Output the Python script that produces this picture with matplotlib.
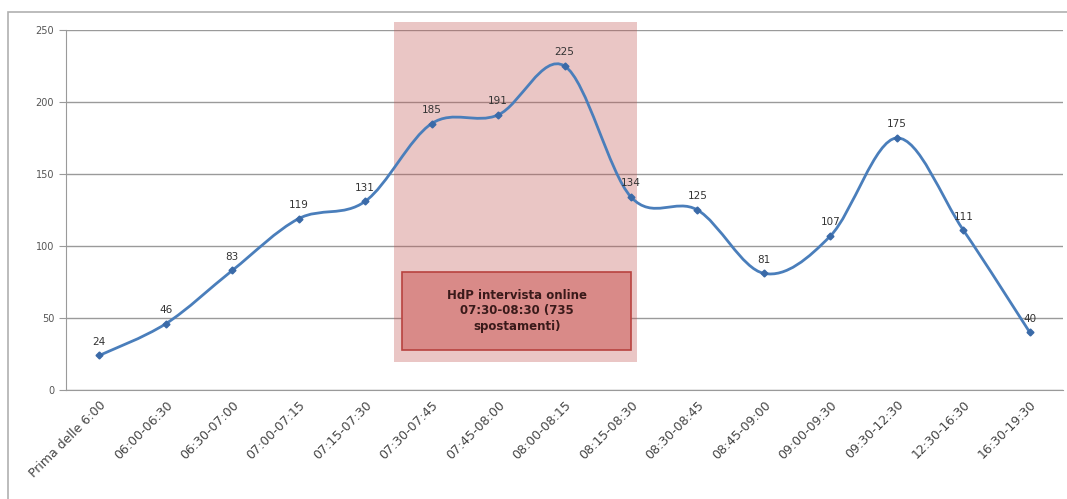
import numpy as np
import matplotlib.pyplot as plt
from matplotlib.path import Path
from matplotlib.patches import PathPatch, Rectangle

fasce = ["Prima delle 6:00", "06:00-06:30", "06:30-07:00", "07:00-07:15",
         "07:15-07:30", "07:30-07:45", "07:45-08:00", "08:00-08:15",
         "08:15-08:30", "08:30-08:45", "08:45-09:00", "09:00-09:30",
         "09:30-12:30", "12:30-16:30", "16:30-19:30"]
spostamenti = [24, 46, 83, 119, 131, 185, 191, 225, 134, 125, 81, 107, 175, 111, 40]
nota = "HdP intervista online\n07:30-08:30 (735\nspostamenti)"

linea = "#4a7ebb"

fig = plt.figure(figsize=(10.67, 4.99), dpi=100)
ax = fig.add_axes([0.0619, 0.2184, 0.9344, 0.7215])

x = np.arange(len(spostamenti))
y = np.array(spostamenti, dtype=float)

# smoothed line (Excel-like Catmull-Rom through the points, as bezier path)
verts = [(x[0], y[0])]
codes = [Path.MOVETO]
n = len(x)
for i in range(n - 1):
    p0 = np.array([x[max(i - 1, 0)], y[max(i - 1, 0)]])
    p1 = np.array([x[i], y[i]])
    p2 = np.array([x[i + 1], y[i + 1]])
    p3 = np.array([x[min(i + 2, n - 1)], y[min(i + 2, n - 1)]])
    c1 = p1 + (p2 - p0) / 6
    c2 = p2 - (p3 - p1) / 6
    verts += [tuple(c1), tuple(c2), tuple(p2)]
    codes += [Path.CURVE4] * 3
ax.add_patch(PathPatch(Path(verts, codes), fill=False, edgecolor=linea,
                       lw=2.0, zorder=4))
ax.plot(x, y, ls="none", marker="D", ms=3.5, color="#3a6aa8", zorder=5)

for xi, yi in zip(x, y):
    ax.text(xi, yi + 6, str(int(yi)), ha="center", va="bottom",
            fontsize=7.5, color="#333333", zorder=6)

# highlighted peak hour band
ax.add_patch(Rectangle((4.44, 19.4), 3.65, 236.2, facecolor="#c0504d",
                       alpha=0.32, edgecolor="none", clip_on=False, zorder=1))
ax.add_patch(Rectangle((4.56, 27.8), 3.44, 54.2, facecolor="#d98a88",
                       edgecolor="#b8433f", lw=1.2, zorder=2))
ax.text(6.28, 55, nota, ha="center", va="center", fontsize=8.5,
        fontweight="bold", color="#3a1a1a", linespacing=1.25, zorder=3)

ax.set_xlim(-0.5, len(fasce) - 0.5)
ax.set_ylim(0, 250)
ax.set_yticks(np.arange(0, 251, 50))
ax.yaxis.grid(True, color="#9a9a9a", lw=1.0, zorder=0)
ax.set_axisbelow(True)
ax.set_xticks(x)
ax.set_xticklabels(fasce, rotation=45, ha="right", rotation_mode="anchor",
                   fontsize=9, color="#444444")
ax.tick_params(axis="y", labelsize=7, colors="#555555", length=5,
               color="#9a9a9a")
ax.tick_params(axis="x", length=0, pad=6)
for s in ["top", "right"]:
    ax.spines[s].set_visible(False)
ax.spines["left"].set_color("#9a9a9a")
ax.spines["bottom"].set_color("#9a9a9a")

# chart frame
fig.add_artist(Rectangle((8 / 1067, -0.01), 1.0, 0.986, transform=fig.transFigure,
                         fill=False, edgecolor="#b0b0b0", lw=1.2))

fig.savefig("out.png", dpi=100)
